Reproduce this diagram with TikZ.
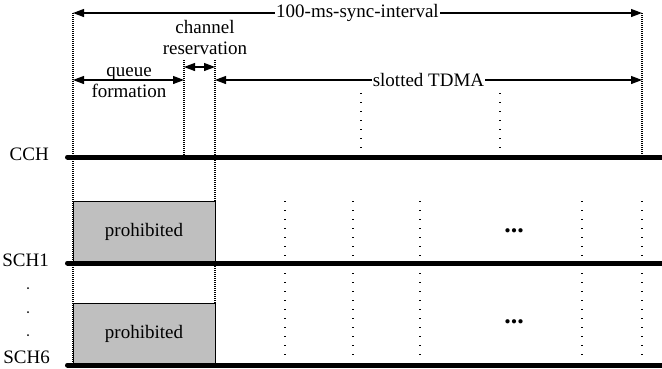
\documentclass[tikz,border=0pt]{standalone}
\usepackage{fontspec}
\setmainfont{Liberation Serif}
\usetikzlibrary{arrows.meta}
\begin{document}
\begin{tikzpicture}[x=1pt,y=-1pt,
  font=\fontsize{19}{21}\selectfont,
  chan/.style={line width=5pt, line cap=round},
  dim/.style={line width=1.2pt, {Triangle[length=11pt,width=8pt]}-{Triangle[length=11pt,width=8pt]}},
  fine/.style={line width=1.1pt, dash pattern=on 1pt off 1pt},
  sparse/.style={line width=1.5pt, dash pattern=on 1.3pt off 7.7pt},
  prohib/.style={draw, line width=1pt, fill=black!25, minimum width=142pt, minimum height=62pt, inner sep=0pt},
  lbl/.style={anchor=east, inner sep=0pt},
  onwhite/.style={fill=white, inner sep=1pt},
  dots/.style={inner sep=0pt, font=\fontsize{26}{26}\selectfont\bfseries}]
\useasboundingbox (0,0) rectangle (662,368);

% coordinates
\coordinate (t0) at (73,13);   \coordinate (t1) at (642,13);
\coordinate (q0) at (73,80);   \coordinate (q1) at (184,80);
\coordinate (c0) at (184,67);  \coordinate (c1) at (215,67);
\coordinate (s0) at (215,80);  \coordinate (s1) at (642,80);
\coordinate (v0b) at (73,365);
\coordinate (v1t) at (184,60); \coordinate (v1b) at (184,157);
\coordinate (v2t) at (215,60); \coordinate (v2b) at (215,365);
\coordinate (v3b) at (642,157);
\coordinate (u1t) at (361,93); \coordinate (u1b) at (361,152);
\coordinate (u2t) at (500,93); \coordinate (u2b) at (500,152);

% fine dotted guides
\draw[fine] (t0) -- (v0b);
\draw[fine] (v1t) -- (v1b);
\draw[fine] (v2t) -- (v2b);
\draw[fine] (t1) -- (v3b);

% sparse dotted slot marks (CCH)
\draw[sparse] (u1t) -- (u1b);
\draw[sparse] (u2t) -- (u2b);

% sparse dotted slot marks (SCH)
\foreach \x/\n in {285/a,353/b,420/c,582/d,642/e}{
  \coordinate (w\n t) at (\x,201);
  \coordinate (w\n b) at (\x,363);
  \draw[sparse] (w\n t) -- (w\n b);
}

% prohibited boxes
\node[prohib] (p1) at (144,232) {prohibited};
\node[prohib] (p6) at (144,334) {prohibited};

% channel labels
\node[lbl] (cch) at (49,154) {CCH};
\node[lbl] (sch1) at (49,260) {SCH1};
\node[lbl] (sch6) at (50,357) {SCH6};

% channel lines
\coordinate (cchA) at (67.5,157);  \coordinate (cchB) at (662,157);
\coordinate (s1A) at (67.5,263);   \coordinate (s1B) at (662,263);
\coordinate (s6A) at (67.5,365);   \coordinate (s6B) at (662,365);
\draw[chan] (cchA) -- (cchB);
\draw[chan] (s1A) -- (s1B);
\draw[chan] (s6A) -- (s6B);

% vertical ellipsis between SCH1 and SCH6
\foreach \y in {288,312,335}{
  \fill (28,\y) circle (1pt);
}

% horizontal ellipses
\node[dots] (e1) at (514,231) {...};
\node[dots] (e6) at (514,322) {...};

% dimension arrows
\draw[dim] (t0) -- node[onwhite] {100-ms-sync-interval} (t1);
\draw[dim] (q0) -- (q1);
\node[align=center, inner sep=0pt] (qf) at (129,83) {queue\\formation};
\draw[dim] (c0) -- (c1);
\node[align=center, inner sep=0pt] (cr) at (205,37) {channel\\reservation};
\draw[dim] (s0) -- node[onwhite] {slotted TDMA} (s1);
\end{tikzpicture}
\end{document}
